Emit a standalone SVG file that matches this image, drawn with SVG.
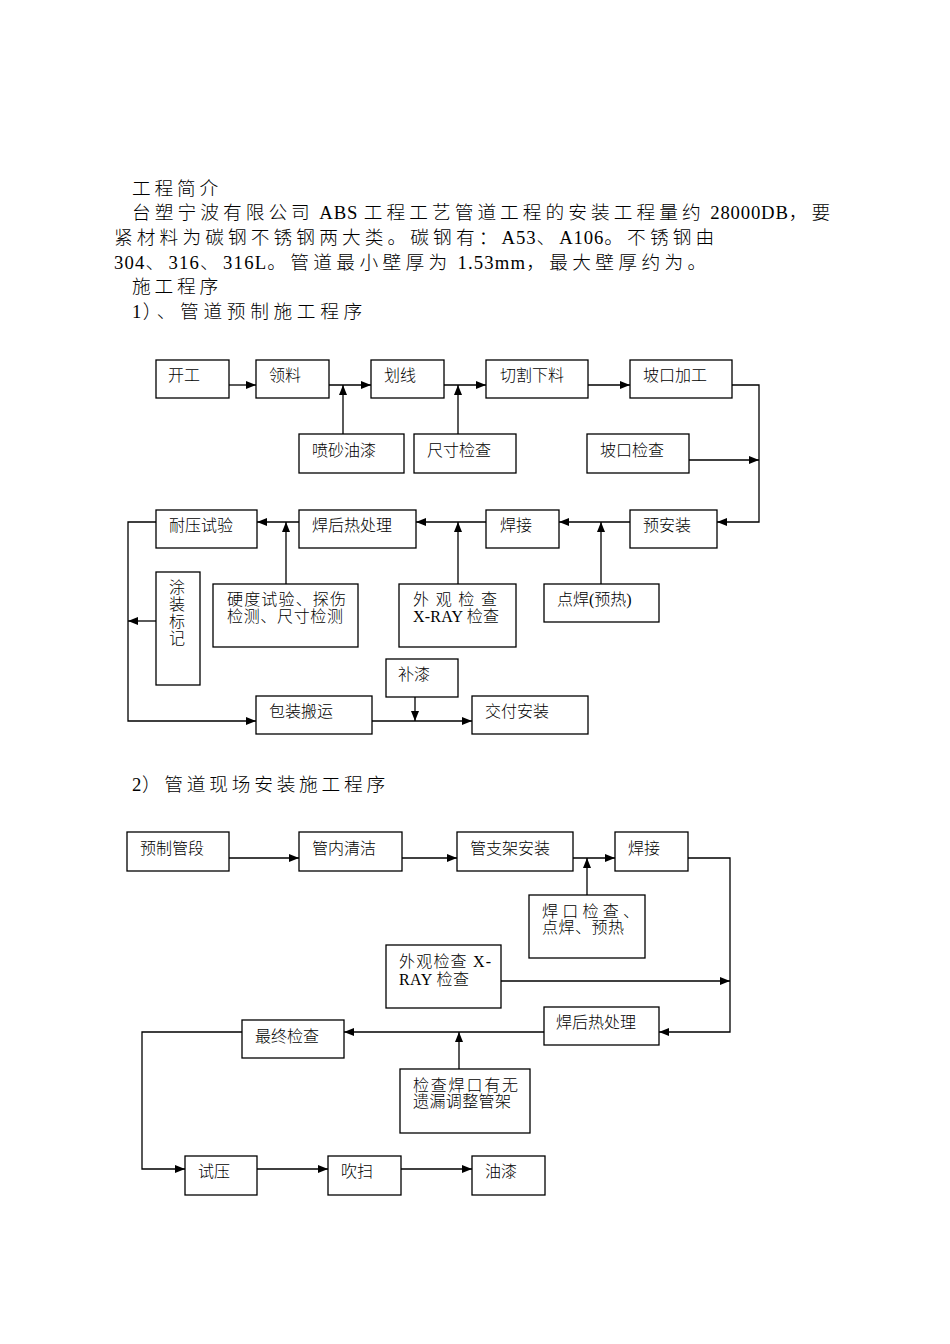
<svg xmlns="http://www.w3.org/2000/svg" width="950" height="1344" viewBox="0 0 950 1344">
<style>
  .bg { fill: #ffffff; }
  .box { fill: #ffffff; stroke: #000000; stroke-width: 1.3; }
  .t { font-family: "Liberation Serif", "Noto Sans CJK SC", serif; font-size: 16px; font-weight: 300; fill: #000000; }
  .h { font-family: "Liberation Serif", "Noto Sans CJK SC", serif; font-size: 18.7px; font-weight: 300; fill: #000000; letter-spacing: 3.8px; }
  .lat { letter-spacing: 0.6px; }
  .c { fill: none; stroke: #000000; stroke-width: 1.3; }
</style>
<defs>
  <marker id="arr" markerUnits="userSpaceOnUse" markerWidth="10" markerHeight="8" refX="10" refY="4" orient="auto">
    <path d="M0,0 L10,4 L0,8 z" fill="#000000"/>
  </marker>
</defs>
<rect class="bg" x="0" y="0" width="950" height="1344"/>

<g id="header">
  <text class="h" x="132" y="195">工程简介</text>
  <text class="h" x="132" y="219" textLength="702" lengthAdjust="spacing">台塑宁波有限公司<tspan class="lat"> ABS </tspan>工程工艺管道工程的安装工程量约<tspan class="lat"> 28000DB</tspan>，要</text>
  <text class="h" x="114" y="244" textLength="604" lengthAdjust="spacing">紧材料为碳钢不锈钢两大类。碳钢有：<tspan class="lat">A53</tspan>、<tspan class="lat">A106</tspan>。不锈钢由</text>
  <text class="h" x="114" y="269" textLength="596" lengthAdjust="spacing"><tspan class="lat">304</tspan>、<tspan class="lat">316</tspan>、<tspan class="lat">316L</tspan>。管道最小壁厚为<tspan class="lat"> 1.53mm</tspan>，最大壁厚约为。</text>
  <text class="h" x="132" y="293">施工程序</text>
  <text class="h" x="132" y="318" textLength="234" lengthAdjust="spacing"><tspan class="lat">1</tspan>）、管道预制施工程序</text>
  <text class="h" x="132" y="791" textLength="257" lengthAdjust="spacing"><tspan class="lat">2</tspan>）管道现场安装施工程序</text>
</g>

<g id="connectors">
  <!-- flowchart 1 -->
  <path class="c" d="M229,385 H256" marker-end="url(#arr)"/>
  <path class="c" d="M329,385 H371" marker-end="url(#arr)"/>
  <path class="c" d="M343,434 V385" marker-end="url(#arr)"/>
  <path class="c" d="M444,385 H486" marker-end="url(#arr)"/>
  <path class="c" d="M458,434 V385" marker-end="url(#arr)"/>
  <path class="c" d="M588,385 H630" marker-end="url(#arr)"/>
  <path class="c" d="M732,385 H759 V522 H717" marker-end="url(#arr)"/>
  <path class="c" d="M689,460 H759" marker-end="url(#arr)"/>
  <path class="c" d="M630,522 H559" marker-end="url(#arr)"/>
  <path class="c" d="M601,584 V522" marker-end="url(#arr)"/>
  <path class="c" d="M486,522 H416" marker-end="url(#arr)"/>
  <path class="c" d="M458,584 V522" marker-end="url(#arr)"/>
  <path class="c" d="M299,522 H257" marker-end="url(#arr)"/>
  <path class="c" d="M286,584 V522" marker-end="url(#arr)"/>
  <path class="c" d="M156,522 H128 V721 H256" marker-end="url(#arr)"/>
  <path class="c" d="M156,621 H128" marker-end="url(#arr)"/>
  <path class="c" d="M372,721 H472" marker-end="url(#arr)"/>
  <path class="c" d="M415,697 V721" marker-end="url(#arr)"/>
  <!-- flowchart 2 -->
  <path class="c" d="M229,858 H299" marker-end="url(#arr)"/>
  <path class="c" d="M402,858 H457" marker-end="url(#arr)"/>
  <path class="c" d="M573,858 H615" marker-end="url(#arr)"/>
  <path class="c" d="M587,895 V858" marker-end="url(#arr)"/>
  <path class="c" d="M688,858 H730 V1032 H659" marker-end="url(#arr)"/>
  <path class="c" d="M501,981 H730" marker-end="url(#arr)"/>
  <path class="c" d="M544,1032 H344" marker-end="url(#arr)"/>
  <path class="c" d="M459,1069 V1032" marker-end="url(#arr)"/>
  <path class="c" d="M242,1032 H142 V1169 H185" marker-end="url(#arr)"/>
  <path class="c" d="M257,1169 H328" marker-end="url(#arr)"/>
  <path class="c" d="M401,1169 H472" marker-end="url(#arr)"/>
</g>

<!-- flowchart 1 nodes -->
<g id="n-kaigong"><rect class="box" x="156" y="360" width="73" height="38"/><text class="t" x="168" y="381">开工</text></g>
<g id="n-lingliao"><rect class="box" x="256" y="360" width="73" height="38"/><text class="t" x="269" y="381">领料</text></g>
<g id="n-huaxian"><rect class="box" x="371" y="360" width="73" height="38"/><text class="t" x="384" y="381">划线</text></g>
<g id="n-qiege"><rect class="box" x="486" y="360" width="102" height="38"/><text class="t" x="500" y="381">切割下料</text></g>
<g id="n-pokoujiagong"><rect class="box" x="630" y="360" width="102" height="38"/><text class="t" x="643" y="381">坡口加工</text></g>
<g id="n-pensha"><rect class="box" x="299" y="434" width="105" height="39"/><text class="t" x="312" y="456">喷砂油漆</text></g>
<g id="n-chicun"><rect class="box" x="414" y="434" width="102" height="39"/><text class="t" x="427" y="456">尺寸检查</text></g>
<g id="n-pokoujiancha"><rect class="box" x="587" y="434" width="102" height="39"/><text class="t" x="600" y="456">坡口检查</text></g>
<g id="n-naiya"><rect class="box" x="156" y="510" width="101" height="38"/><text class="t" x="169" y="531">耐压试验</text></g>
<g id="n-hanhou1"><rect class="box" x="299" y="510" width="117" height="38"/><text class="t" x="312" y="531">焊后热处理</text></g>
<g id="n-hanjie1"><rect class="box" x="486" y="510" width="73" height="38"/><text class="t" x="500" y="531">焊接</text></g>
<g id="n-yuanzhuang"><rect class="box" x="630" y="510" width="87" height="38"/><text class="t" x="643" y="531">预安装</text></g>
<g id="n-tuzhuang"><rect class="box" x="156" y="572" width="44" height="113"/>
  <text class="t" x="177" y="593" text-anchor="middle">涂</text>
  <text class="t" x="177" y="610" text-anchor="middle">装</text>
  <text class="t" x="177" y="627" text-anchor="middle">标</text>
  <text class="t" x="177" y="644" text-anchor="middle">记</text>
</g>
<g id="n-yingdu"><rect class="box" x="213" y="584" width="145" height="63"/>
  <text class="t" x="227" y="605" textLength="119" lengthAdjust="spacing">硬度试验、探伤</text>
  <text class="t" x="227" y="622" textLength="116" lengthAdjust="spacing">检测、尺寸检测</text>
</g>
<g id="n-waiguan1"><rect class="box" x="399" y="584" width="117" height="63"/>
  <text class="t" x="413" y="605" textLength="84" lengthAdjust="spacing">外 观 检 查</text>
  <text class="t" x="413" y="622" textLength="86" lengthAdjust="spacing">X-RAY 检查</text>
</g>
<g id="n-dianhan"><rect class="box" x="544" y="584" width="115" height="38"/><text class="t" x="557" y="605">点焊(预热)</text></g>
<g id="n-buqi"><rect class="box" x="386" y="659" width="72" height="38"/><text class="t" x="398" y="680">补漆</text></g>
<g id="n-baozhuang"><rect class="box" x="256" y="696" width="116" height="38"/><text class="t" x="269" y="717">包装搬运</text></g>
<g id="n-jiaofu"><rect class="box" x="472" y="696" width="116" height="38"/><text class="t" x="485" y="717">交付安装</text></g>

<!-- flowchart 2 nodes -->
<g id="n-yuzhi"><rect class="box" x="127" y="832" width="102" height="39"/><text class="t" x="140" y="854">预制管段</text></g>
<g id="n-guannei"><rect class="box" x="299" y="832" width="103" height="39"/><text class="t" x="312" y="854">管内清洁</text></g>
<g id="n-guanzhijia"><rect class="box" x="457" y="832" width="116" height="39"/><text class="t" x="470" y="854">管支架安装</text></g>
<g id="n-hanjie2"><rect class="box" x="615" y="832" width="73" height="39"/><text class="t" x="628" y="854">焊接</text></g>
<g id="n-hankou"><rect class="box" x="529" y="895" width="116" height="63"/>
  <text class="t" x="542" y="917" textLength="97" lengthAdjust="spacing">焊口检查、</text>
  <text class="t" x="542" y="933" textLength="82" lengthAdjust="spacing">点焊、预热</text>
</g>
<g id="n-waiguan2"><rect class="box" x="386" y="945" width="115" height="63"/>
  <text class="t" x="399" y="967" textLength="92" lengthAdjust="spacing">外观检查 X-</text>
  <text class="t" x="399" y="985" textLength="70" lengthAdjust="spacing">RAY 检查</text>
</g>
<g id="n-hanhou2"><rect class="box" x="544" y="1007" width="115" height="38"/><text class="t" x="556" y="1028">焊后热处理</text></g>
<g id="n-zuizhong"><rect class="box" x="242" y="1020" width="102" height="38"/><text class="t" x="255" y="1042">最终检查</text></g>
<g id="n-jianchahankou"><rect class="box" x="400" y="1069" width="130" height="64"/>
  <text class="t" x="413" y="1091" textLength="105" lengthAdjust="spacing">检查焊口有无</text>
  <text class="t" x="413" y="1107" textLength="98" lengthAdjust="spacing">遗漏调整管架</text>
</g>
<g id="n-shiya"><rect class="box" x="185" y="1156" width="72" height="39"/><text class="t" x="198" y="1177">试压</text></g>
<g id="n-chuisao"><rect class="box" x="328" y="1156" width="73" height="39"/><text class="t" x="341" y="1177">吹扫</text></g>
<g id="n-youqi"><rect class="box" x="472" y="1156" width="73" height="39"/><text class="t" x="485" y="1177">油漆</text></g>
</svg>
